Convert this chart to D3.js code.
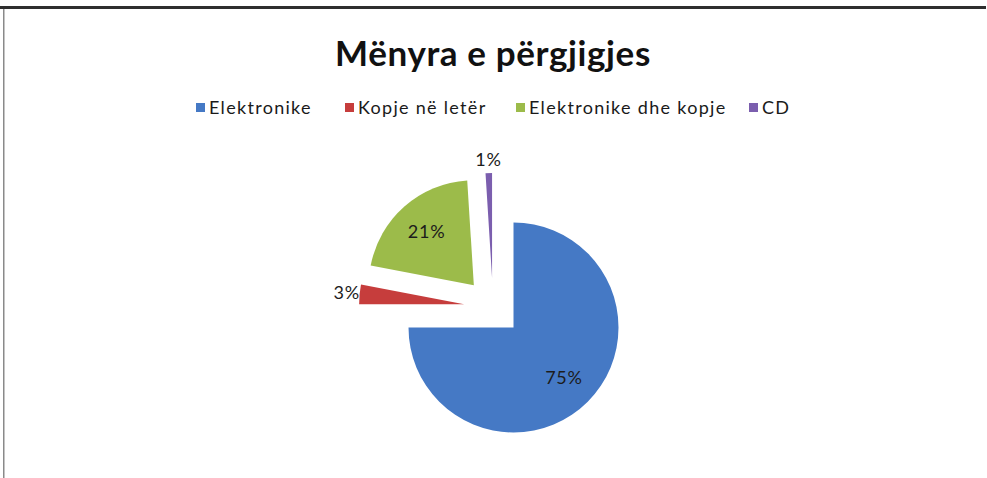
<!DOCTYPE html>
<html>
<head>
<meta charset="utf-8">
<script src="https://cdn.jsdelivr.net/npm/d3@7"></script>
<style>
  body { margin: 0; background: #fff; }
  svg { display: block; }
</style>
</head>
<body>
<svg id="chart"></svg>
<script>
var categories = ["Elektronike", "Kopje në letër", "Elektronike dhe kopje", "CD"]
var values = [75, 3, 21, 1]
var labels = ["75%", "3%", "21%", "1%"]
var colors = ["#4579c5", "#c63d3c", "#9cbb4a", "#7b5eae"]
var outside = [false, true, false, true]

const W = 987, H = 478
const R = 105
const EXPLODE = 29
const CX = 493, CY = 307

const svg = d3.select("#chart").attr("width", W).attr("height", H)

// frame lines from the scanned page
svg.append("rect").attr("x", 0).attr("y", 6).attr("width", 986).attr("height", 3).attr("fill", "#2e2e2e")
svg.append("rect").attr("x", 3).attr("y", 9).attr("width", 1.5).attr("height", H - 9).attr("fill", "#8a8a8a")

svg.append("text")
  .attr("x", 493).attr("y", 66)
  .attr("text-anchor", "middle")
  .attr("font-family", "Lato, sans-serif")
  .attr("font-weight", "bold")
  .attr("font-size", 35)
  .attr("letter-spacing", 0.6)
  .attr("fill", "#111")
  .text("Mënyra e përgjigjes")

// legend
const legendX = [196, 345, 516, 749]
const legend = svg.append("g")
categories.forEach(function(c, i){
  const g = legend.append("g").attr("transform", `translate(${legendX[i]}, 108)`)
  g.append("rect").attr("x", 0).attr("y", -5).attr("width", 9).attr("height", 9).attr("fill", colors[i])
  g.append("text").attr("x", 13).attr("y", 0).attr("dy", "0.35em")
    .attr("font-family", "Lato, sans-serif").attr("font-size", 18)
    .attr("letter-spacing", 1.3).attr("fill", "#1a1a1a")
    .text(c)
})

const pie = d3.pie().sort(null).value(d => d)
const arcs = pie(values)
const arc = d3.arc().innerRadius(0).outerRadius(R)

const pg = svg.append("g").attr("transform", `translate(${CX}, ${CY})`)

arcs.forEach(function(a, i){
  const mid = (a.startAngle + a.endAngle) / 2
  const dx = Math.sin(mid) * EXPLODE, dy = -Math.cos(mid) * EXPLODE
  pg.append("path")
    .attr("d", arc(a))
    .attr("transform", `translate(${dx}, ${dy})`)
    .attr("fill", colors[i])

  var lr = outside[i] ? R + EXPLODE + 13 : R * 0.68 + EXPLODE
  pg.append("text")
    .attr("x", Math.sin(mid) * lr)
    .attr("y", -Math.cos(mid) * lr)
    .attr("dy", "0.35em")
    .attr("text-anchor", "middle")
    .attr("font-family", "Lato, sans-serif")
    .attr("font-size", 18)
    .attr("letter-spacing", 0.8)
    .attr("fill", "#1c1c1c")
    .text(labels[i])
})
</script>
</body>
</html>
